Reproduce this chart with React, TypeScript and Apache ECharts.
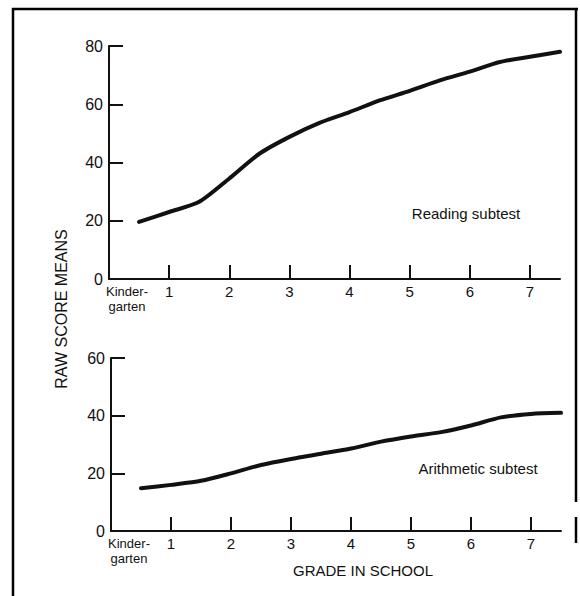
import React, { useEffect, useRef } from "react";
import * as echarts from "echarts";

const grades = [0.5, 1, 1.5, 2, 2.5, 3, 3.5, 4, 4.5, 5, 5.5, 6, 6.5, 7, 7.5];
const readingMeans = [19.6, 23.0, 26.5, 34.5, 43.0, 48.8, 53.6, 57.3, 61.3, 64.6, 68.2, 71.2, 74.5, 76.3, 78.0];
const arithmeticMeans = [14.8, 16.0, 17.4, 20.0, 22.9, 25.0, 26.8, 28.6, 31.0, 32.8, 34.3, 36.6, 39.4, 40.6, 41.0];
const gradeTicks = [1, 2, 3, 4, 5, 6, 7];
const gradeLabelValues = [0, 1, 2, 3, 4, 5, 6, 7];
const gradeLabels = ["Kinder-\ngarten", "1", "2", "3", "4", "5", "6", "7"];
const readingTicks = [0, 20, 40, 60, 80];
const arithmeticTicks = [0, 20, 40, 60];
const yTitle = "RAW SCORE MEANS";
const xTitle = "GRADE IN SCHOOL";
const readingLabel = "Reading subtest";
const arithmeticLabel = "Arithmetic subtest";

const FONT = "Liberation Sans";
const INK = "#111";

function xAxisFor(gridIndex: number) {
  return {
    type: "value",
    gridIndex,
    min: 0,
    max: 7.5,
    interval: 1,
    splitLine: { show: false },
    axisLine: { show: true, lineStyle: { color: INK, width: 2 } },
    axisTick: {
      show: true,
      inside: true,
      length: 14,
      customValues: gradeTicks,
      lineStyle: { color: INK, width: 2 },
    },
    axisLabel: {
      show: true,
      customValues: gradeLabelValues,
      margin: 5,
      color: INK,
      fontFamily: FONT,
      fontSize: 15,
      formatter: (v: number) => {
        const i = gradeLabelValues.indexOf(v);
        if (i < 0) return "";
        if (i === 0) return "{k|" + gradeLabels[0].split("\n").join("}\n{k|") + "}";
        return gradeLabels[i];
      },
      rich: {
        k: { fontSize: 13, lineHeight: 15, fontFamily: FONT, color: INK, padding: [0, 0, 0, 36] },
      },
    },
  };
}

function yAxisFor(gridIndex: number, ticks: number[]) {
  return {
    type: "value",
    gridIndex,
    min: 0,
    max: ticks[ticks.length - 1],
    interval: 20,
    splitLine: { show: false },
    axisLine: { show: true, lineStyle: { color: INK, width: 2 } },
    axisTick: {
      show: true,
      inside: true,
      length: 14,
      customValues: ticks.slice(1),
      lineStyle: { color: INK, width: 2 },
    },
    axisLabel: {
      show: true,
      customValues: ticks,
      margin: 6,
      color: INK,
      fontFamily: FONT,
      fontSize: 16,
    },
  };
}

export default function App() {
  const ref = useRef<HTMLDivElement>(null);
  useEffect(() => {
    if (!ref.current) return;
    const chart = echarts.init(ref.current, undefined, { renderer: "svg" });
    const lineStyle = { color: INK, width: 4, cap: "round", join: "round" };
    const edge = (id: string, x1: number, y1: number, x2: number, y2: number) => ({
      type: "line",
      id,
      z: 10,
      shape: { x1, y1, x2, y2 },
      style: { stroke: "#000", lineWidth: 2.5 },
    });
    chart.setOption({
      animation: false,
      backgroundColor: "#fff",
      grid: [
        { left: 109, top: 46, width: 451, height: 233 },
        { left: 111, top: 358, width: 450, height: 173 },
      ],
      xAxis: [xAxisFor(0), xAxisFor(1)],
      yAxis: [yAxisFor(0, readingTicks), yAxisFor(1, arithmeticTicks)],
      series: [
        {
          type: "line",
          xAxisIndex: 0,
          yAxisIndex: 0,
          data: grades.map((g, i) => [g, readingMeans[i]]),
          showSymbol: false,
          smooth: 0.25,
          lineStyle,
        },
        {
          type: "line",
          xAxisIndex: 1,
          yAxisIndex: 1,
          data: grades.map((g, i) => [g, arithmeticMeans[i]]),
          showSymbol: false,
          smooth: 0.25,
          lineStyle,
        },
      ],
      graphic: [
        edge("left", 13, 8, 13, 596),
        edge("top", 12, 9, 578, 9),
        edge("right1", 576, 8, 576, 502),
        edge("right2", 576, 517, 576, 543),
        {
          type: "text",
          id: "ytitle",
          x: 61,
          y: 309,
          rotation: Math.PI / 2,
          style: {
            text: yTitle,
            fontFamily: FONT,
            fontSize: 16,
            fill: INK,
            align: "center",
            verticalAlign: "middle",
          },
        },
        {
          type: "text",
          id: "xtitle",
          x: 363,
          y: 570,
          style: {
            text: xTitle,
            fontFamily: FONT,
            fontSize: 15,
            fill: INK,
            align: "center",
            verticalAlign: "middle",
          },
        },
        {
          type: "text",
          id: "reading",
          x: 466,
          y: 213,
          style: {
            text: readingLabel,
            fontFamily: FONT,
            fontSize: 15,
            fill: INK,
            align: "center",
            verticalAlign: "middle",
          },
        },
        {
          type: "text",
          id: "arith",
          x: 478,
          y: 468,
          style: {
            text: arithmeticLabel,
            fontFamily: FONT,
            fontSize: 15,
            fill: INK,
            align: "center",
            verticalAlign: "middle",
          },
        },
      ],
    });
    return () => chart.dispose();
  }, []);
  return (
    <div
      ref={ref}
      style={{ position: "absolute", left: 0, top: 0, width: 580, height: 596 }}
    />
  );
}
